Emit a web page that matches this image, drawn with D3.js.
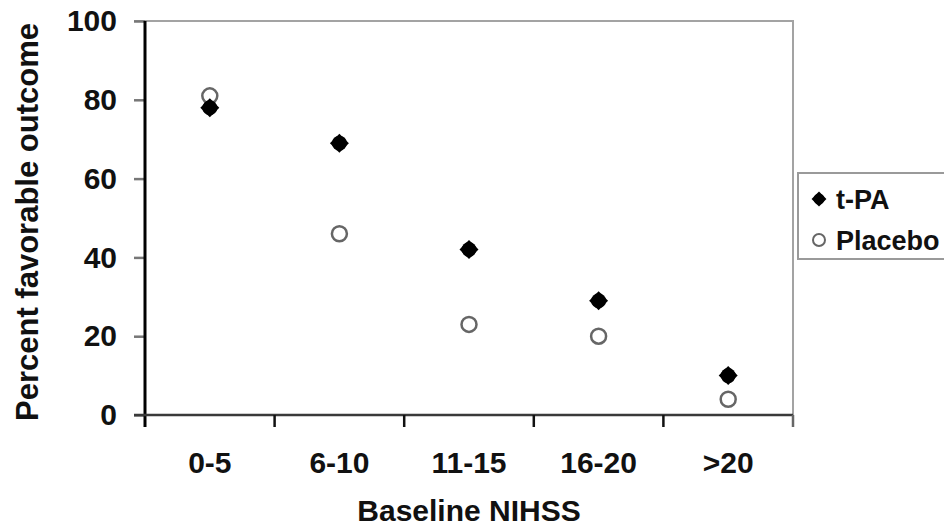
<!DOCTYPE html>
<html>
<head>
<meta charset="utf-8">
<script src="https://cdn.jsdelivr.net/npm/d3@7/dist/d3.min.js"></script>
<style>
  html, body { margin: 0; padding: 0; background: #fff; overflow: hidden; }
  svg { display: block; }
  text { font-family: "Liberation Sans", Arial, Helvetica, sans-serif; font-weight: bold; fill: #111; }
</style>
</head>
<body>
<svg id="chart" width="944" height="528"></svg>
<script>
// ---- data ----
const categories = ["0-5", "6-10", "11-15", "16-20", ">20"];
const tpaValues = [78, 69, 42, 29, 10];
const placeboValues = [81, 46, 23, 20, 4];
const yTicks = [0, 20, 40, 60, 80, 100];
const seriesNames = ["t-PA", "Placebo"];
const xTitle = "Baseline NIHSS";
const yTitle = "Percent favorable outcome";

// ---- layout ----
const plotL = 145, plotR = 793, plotT = 21, plotB = 415;
const svg = d3.select("#chart");

const x = d3.scaleBand().domain(categories).range([plotL, plotR]).padding(0);
const y = d3.scaleLinear().domain([0, 100]).range([plotB, plotT]);

// plot border (top & right), gray
svg.append("path")
  .attr("d", `M${plotL - 11},${plotT} H${plotR} V${plotB + 7}`)
  .attr("fill", "none").attr("stroke", "#a3a3a3").attr("stroke-width", 2);

// y axis
const yAxis = svg.append("g")
  .attr("transform", `translate(${plotL},0)`)
  .call(d3.axisLeft(y).tickValues(yTicks).tickSize(11).tickPadding(17).tickFormat(d3.format("d")));
yAxis.select(".domain").remove();
yAxis.selectAll(".tick line").attr("stroke", "#777").attr("stroke-width", 2.5);
yAxis.selectAll(".tick text").style("font-size", "30px").attr("fill", "#111");
svg.append("line")
  .attr("x1", plotL).attr("x2", plotL).attr("y1", plotT).attr("y2", plotB + 12)
  .attr("stroke", "#000").attr("stroke-width", 3);

// x axis
const xAxis = svg.append("g")
  .attr("transform", `translate(0,${plotB})`)
  .call(d3.axisBottom(x).tickSize(0).tickPadding(37));
xAxis.select(".domain").remove();
xAxis.selectAll(".tick text").style("font-size", "30px").attr("fill", "#111");
svg.append("line")
  .attr("x1", plotL - 11).attr("x2", plotR).attr("y1", plotB).attr("y2", plotB)
  .attr("stroke", "#3a3a3a").attr("stroke-width", 2.5);
// category boundary ticks
svg.append("g").selectAll("line")
  .data(categories.slice(1))
  .join("line")
  .attr("x1", d => x(d)).attr("x2", d => x(d))
  .attr("y1", plotB).attr("y2", plotB + 12)
  .attr("stroke", "#111").attr("stroke-width", 2.5);
svg.append("line")
  .attr("x1", plotR).attr("x2", plotR).attr("y1", plotB).attr("y2", plotB + 12)
  .attr("stroke", "#666").attr("stroke-width", 2.5);

// titles
svg.append("text")
  .attr("transform", `translate(38,222) rotate(-90)`)
  .attr("text-anchor", "middle")
  .style("font-size", "31px")
  .text(yTitle);
svg.append("text")
  .attr("x", (plotL + plotR) / 2).attr("y", 521)
  .attr("text-anchor", "middle")
  .style("font-size", "30px")
  .text(xTitle);

// markers
const diamond = d3.symbol().type(d3.symbolSquare);
const cx = d => x(d) + x.bandwidth() / 2;

svg.append("g").selectAll("circle")
  .data(categories.map((c, i) => ({ c, v: placeboValues[i] })))
  .join("circle")
  .attr("cx", d => cx(d.c)).attr("cy", d => y(d.v))
  .attr("r", 7.5)
  .attr("fill", "#fff").attr("stroke", "#666").attr("stroke-width", 2.5);

const tpaG = svg.append("g").selectAll("g")
  .data(categories.map((c, i) => ({ c, v: tpaValues[i] })))
  .join("g")
  .attr("transform", d => `translate(${cx(d.c)},${y(d.v)})`);
tpaG.append("path")
  .attr("d", diamond.size(180)())
  .attr("transform", "rotate(45)")
  .attr("fill", "#000");
tpaG.append("circle").attr("r", 7.5).attr("fill", "#000");

// legend
const lg = svg.append("g");
lg.append("rect")
  .attr("x", 798).attr("y", 173).attr("width", 170).attr("height", 86)
  .attr("fill", "#fff").attr("stroke", "#9a9a9a").attr("stroke-width", 2);
const legY = [199, 240];
const lt = lg.append("g").attr("transform", `translate(819,${legY[0]})`);
lt.append("path").attr("d", diamond.size(110)()).attr("transform", "rotate(45)").attr("fill", "#000");
lt.append("circle").attr("r", 5.5).attr("fill", "#000");
lg.append("circle")
  .attr("cx", 819).attr("cy", legY[1]).attr("r", 6)
  .attr("fill", "#fff").attr("stroke", "#666").attr("stroke-width", 2);
lg.selectAll("text.leg")
  .data(seriesNames)
  .join("text")
  .attr("class", "leg")
  .attr("x", 836).attr("y", (d, i) => legY[i] + 10)
  .style("font-size", "27px")
  .text(d => d);
</script>
</body>
</html>
